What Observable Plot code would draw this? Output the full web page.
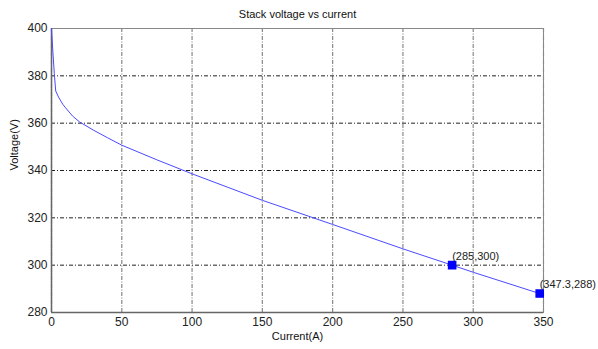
<!DOCTYPE html>
<html>
<head>
<meta charset="utf-8">
<script src="https://cdn.jsdelivr.net/npm/d3@7"></script>
<script src="https://cdn.jsdelivr.net/npm/@observablehq/plot@0.6"></script>
<style>
  html, body { margin: 0; padding: 0; background: #fff; }
  svg { display: block; }
</style>
</head>
<body>
<div id="chart"></div>
<script>
// Data
const current = [0, 1, 2, 3, 5, 8, 10, 15, 20, 30, 40, 50, 75, 100, 150, 200, 250, 285, 300, 347.3];
const voltage = [400, 390, 381, 373.6, 371, 368, 366.5, 363, 360.5, 357, 353.8, 350.7, 344.5, 338.6, 327.4, 317.2, 306.9, 300, 297, 288];
const markedCurrent = [285, 347.3];
const markedVoltage = [300, 288];
const markedLabels = ["(285,300)", "(347.3,288)"];
const xTicks = [0, 50, 100, 150, 200, 250, 300, 350];
const yTicks = [280, 300, 320, 340, 360, 380, 400];
const titleText = "Stack voltage vs current";
const xLabel = "Current(A)";
const yLabel = "Voltage(V)";

const curve = current.map((c, i) => ({c, v: voltage[i]}));
const marked = markedCurrent.map((c, i) => ({c, v: markedVoltage[i], label: markedLabels[i]}));

const font = "'Liberation Sans', Arial, sans-serif";

const chart = Plot.plot({
  width: 598,
  height: 349,
  marginLeft: 51,
  marginRight: 55,
  marginTop: 28,
  marginBottom: 37,
  style: {fontFamily: font, fontSize: "12px", color: "#222", background: "#fff"},
  x: {domain: [0, 350], ticks: xTicks},
  y: {domain: [280, 400], ticks: yTicks},
  marks: [
    Plot.ruleX(xTicks, {stroke: "#888", strokeWidth: 1.2, strokeDasharray: "4,1.5,1,1.5"}),
    Plot.ruleY(yTicks, {stroke: "#222", strokeWidth: 1, strokeDasharray: "4,2,1,2"}),
    Plot.frame({stroke: "#888", strokeWidth: 1}),
    Plot.ruleX([0], {stroke: "#666", strokeWidth: 1.5}),
    Plot.ruleY([280], {stroke: "#666", strokeWidth: 1.5}),
    Plot.axisX({ticks: xTicks, tickSize: 0, tickPadding: 5, label: null, fontSize: 12, tickFormat: d => d}),
    Plot.axisY({ticks: yTicks, tickSize: 0, tickPadding: 4, label: null, fontSize: 12, tickFormat: d => d}),
    Plot.line(curve, {x: "c", y: "v", stroke: "#4a4aff", strokeWidth: 1}),
    Plot.dot(marked, {x: "c", y: "v", r: 4, fill: "#0000ff", stroke: "#0000ff", symbol: "square"}),
    Plot.text(marked, {x: "c", y: "v", text: "label", textAnchor: "start", dx: 0, dy: -9, fontSize: 11, fill: "#222"}),
    Plot.text([titleText], {frameAnchor: "top", dy: -11, fontSize: 11, fill: "#111", lineAnchor: "bottom"}),
    Plot.text([xLabel], {frameAnchor: "bottom", dy: 24, fontSize: 11, fill: "#111", lineAnchor: "middle"}),
    Plot.text([yLabel], {frameAnchor: "left", dx: -37, rotate: -90, fontSize: 11, fill: "#111"})
  ]
});
document.getElementById("chart").appendChild(chart);
</script>
</body>
</html>
